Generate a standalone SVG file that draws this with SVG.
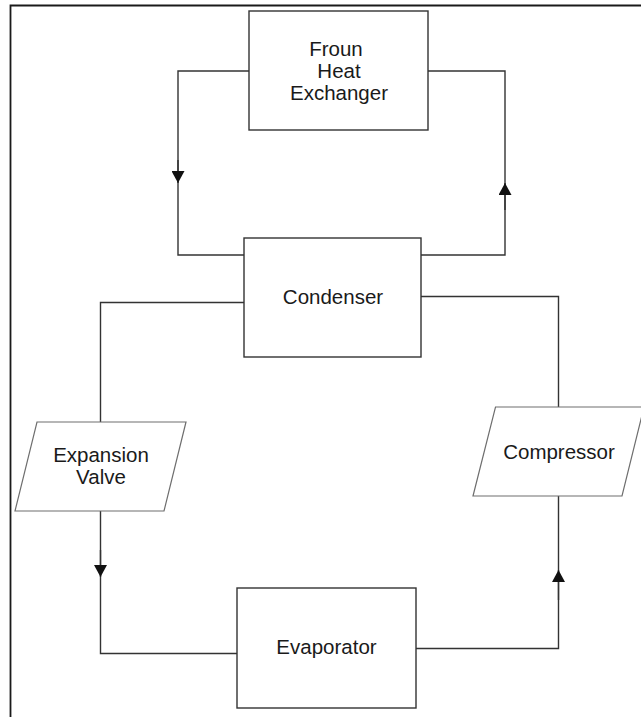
<svg xmlns="http://www.w3.org/2000/svg" width="641" height="717" viewBox="0 0 641 717">
  <style>
    .box { fill: #ffffff; stroke: #333333; stroke-width: 1.4; }
    .para { fill: #ffffff; stroke: #6e6e6e; stroke-width: 1.2; }
    .wire { fill: none; stroke: #333333; stroke-width: 1.4; }
    .label { font-family: "Liberation Sans", Arial, sans-serif; font-size: 20.5px; fill: #1a1a1a; text-anchor: middle; }
  </style>
  <defs>
    <marker id="arrow" viewBox="0 0 12 13" refX="12" refY="6.5" markerWidth="12" markerHeight="13" markerUnits="userSpaceOnUse" orient="auto">
      <path d="M0,0 L12,6.5 L0,13 Z" fill="#111111"/>
    </marker>
  </defs>

  <rect width="641" height="717" fill="#ffffff"/>
  <!-- page frame -->
  <path d="M10.5,717 V5.5 H641" fill="none" stroke="#1a1a1a" stroke-width="1.8"/>

  <g id="connectors">
    <!-- heat exchanger -> condenser (left loop) -->
    <path class="wire" d="M249,71 H178 V255 H244"/>
    <path class="wire" d="M178,160 V183" marker-end="url(#arrow)"/>
    <!-- condenser -> heat exchanger (right loop) -->
    <path class="wire" d="M421,255 H505 V71 H428"/>
    <path class="wire" d="M505,210 V183" marker-end="url(#arrow)"/>
    <!-- condenser -> expansion valve -->
    <path class="wire" d="M244,302.5 H100.5 V422"/>
    <!-- compressor -> condenser -->
    <path class="wire" d="M421,296.5 H558.5 V407"/>
    <!-- expansion valve -> evaporator -->
    <path class="wire" d="M100.5,511 V653.5 H237"/>
    <path class="wire" d="M100.5,550 V577" marker-end="url(#arrow)"/>
    <!-- evaporator -> compressor -->
    <path class="wire" d="M416,648.5 H558.5 V496"/>
    <path class="wire" d="M558.5,600 V570" marker-end="url(#arrow)"/>
  </g>

  <g id="heat-exchanger">
    <rect class="box" x="249" y="11" width="179" height="119"/>
    <text class="label" x="336" y="56">Froun</text>
    <text class="label" x="339" y="78">Heat</text>
    <text class="label" x="339" y="100">Exchanger</text>
  </g>

  <g id="condenser">
    <rect class="box" x="244" y="238" width="177" height="119"/>
    <text class="label" x="333" y="304">Condenser</text>
  </g>

  <g id="expansion-valve">
    <polygon class="para" points="37,422 186,422 164,511 15,511"/>
    <text class="label" x="101" y="462">Expansion</text>
    <text class="label" x="101" y="484">Valve</text>
  </g>

  <g id="compressor">
    <polygon class="para" points="495.5,407 644,407 622,496 473,496"/>
    <text class="label" x="559" y="459">Compressor</text>
  </g>

  <g id="evaporator">
    <rect class="box" x="237" y="588" width="179" height="120"/>
    <text class="label" x="326.5" y="654">Evaporator</text>
  </g>
</svg>
